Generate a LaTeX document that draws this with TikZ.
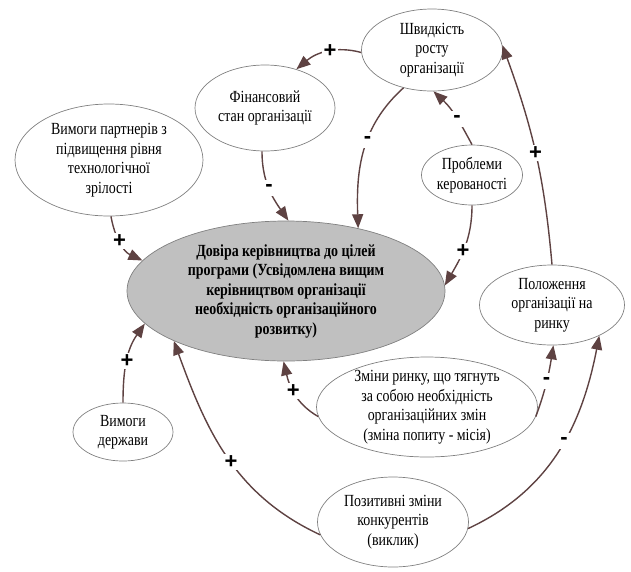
\documentclass[tikz,border=0pt]{standalone}
\usepackage{fontspec}
\setmainfont{Liberation Serif}[FakeStretch=0.82]
\setsansfont{Liberation Sans}
\usetikzlibrary{shapes, arrows.meta, positioning}
\definecolor{linkbrown}{RGB}{94, 66, 66}
\definecolor{rimgray}{RGB}{128, 128, 128}
\definecolor{coregray}{RGB}{192, 192, 192}

\begin{document}
\begin{tikzpicture}[
  x=1pt, y=-1pt,
  factor/.style={ellipse, draw=rimgray, line width=0.7pt, inner sep=0pt, align=center, font=\fontsize{17}{19.5}\selectfont},
  link/.style={draw=linkbrown, line width=1.4pt, -{Triangle[length=14pt, width=11pt]}},
  sign/.style={fill=white, inner sep=0pt, minimum size=16pt, font=\sffamily\bfseries\fontsize{22}{22}\selectfont}
]
  \useasboundingbox (0,0) rectangle (631,571);

  % Central factor
  \node[factor, fill=coregray, minimum width=318pt, minimum height=140pt, font=\fontsize{17}{19.5}\selectfont\bfseries] (trust) at (286, 291) {
    Довіра керівництва до цілей\\
    програми (Усвідомлена вищим\\
    керівництвом організації\\
    необхідність організаційного\\
    розвитку)
  };

  % Growth rate
  \node[factor, minimum width=141pt, minimum height=82pt] (speed) at (432, 50) {
    Швидкість\\ росту\\ організації
  };

  % Financial state
  \node[factor, minimum width=140pt, minimum height=86pt] (fin) at (265, 108) {
    Фінансовий\\ стан організації
  };

  % Partner demands
  \node[factor, minimum width=188pt, minimum height=112pt] (partn) at (109, 160) {
    Вимоги партнерів з\\ підвищення рівня\\ технологічної\\ зрілості
  };

  % Manageability problems
  \node[factor, inner xsep=-3pt, minimum width=101pt, minimum height=60pt] (probl) at (472, 175) {
    Проблеми\\ керованості
  };

  % Market position
  \node[factor, minimum width=145pt, minimum height=80pt] (place) at (552, 305) {
    Положення\\ організації на\\ ринку
  };

  % Market changes
  \node[factor, inner ysep=-4pt, minimum width=221pt, minimum height=100pt] (mkt) at (427, 407) {
    Зміни ринку, що тягнуть\\ за собою необхідність\\ організаційних змін\\ (зміна попиту - місія)
  };

  % Competitors
  \node[factor, minimum width=151pt, minimum height=90pt] (comp) at (393, 522) {
    Позитивні зміни\\ конкурентів\\ (виклик)
  };

  % State demands
  \node[factor, minimum width=100pt, minimum height=58pt] (state) at (123, 432) {
    Вимоги\\ держави
  };

  % Links
  \draw[link] (speed.182) to[out=165, in=40] node[sign, pos=0.45] {+} (fin.51);
  \draw[link] (fin.266) to[out=270, in=125] node[sign, pos=0.5] {-} (trust.88);
  \draw[link] (speed.233) to[out=222, in=92] node[sign, pos=0.42] {-} (trust.41);
  \draw[link] (probl.90) to[out=118, in=317] node[sign, pos=0.45] {-} (speed.272);
  \draw[link] (probl.270) to[out=270, in=60] node[sign, pos=0.55] {+} (trust.2);
  \draw[link] (place.90) to[out=95, in=290] node[sign, pos=0.5] {+} (speed.4);
  \draw[link] (partn.272) to[out=280, in=155] node[sign, pos=0.45] {+} (trust.168);
  \draw[link] (state.90) to[out=90, in=235] node[sign, pos=0.5] {+} (trust.193);
  \draw[link] (comp.190) to[out=155, in=290] node[sign, pos=0.47] {+} (trust.204);
  \draw[link] (comp.355) to[out=25, in=259] node[sign, pos=0.55] {-} (place.327);
  \draw[link] (mkt.185) to[out=150, in=283] node[sign, pos=0.55] {+} (trust.268);
  \draw[link] (mkt.355) to[out=70, in=261] node[sign, pos=0.5] {-} (place.272);
\end{tikzpicture}
\end{document}
